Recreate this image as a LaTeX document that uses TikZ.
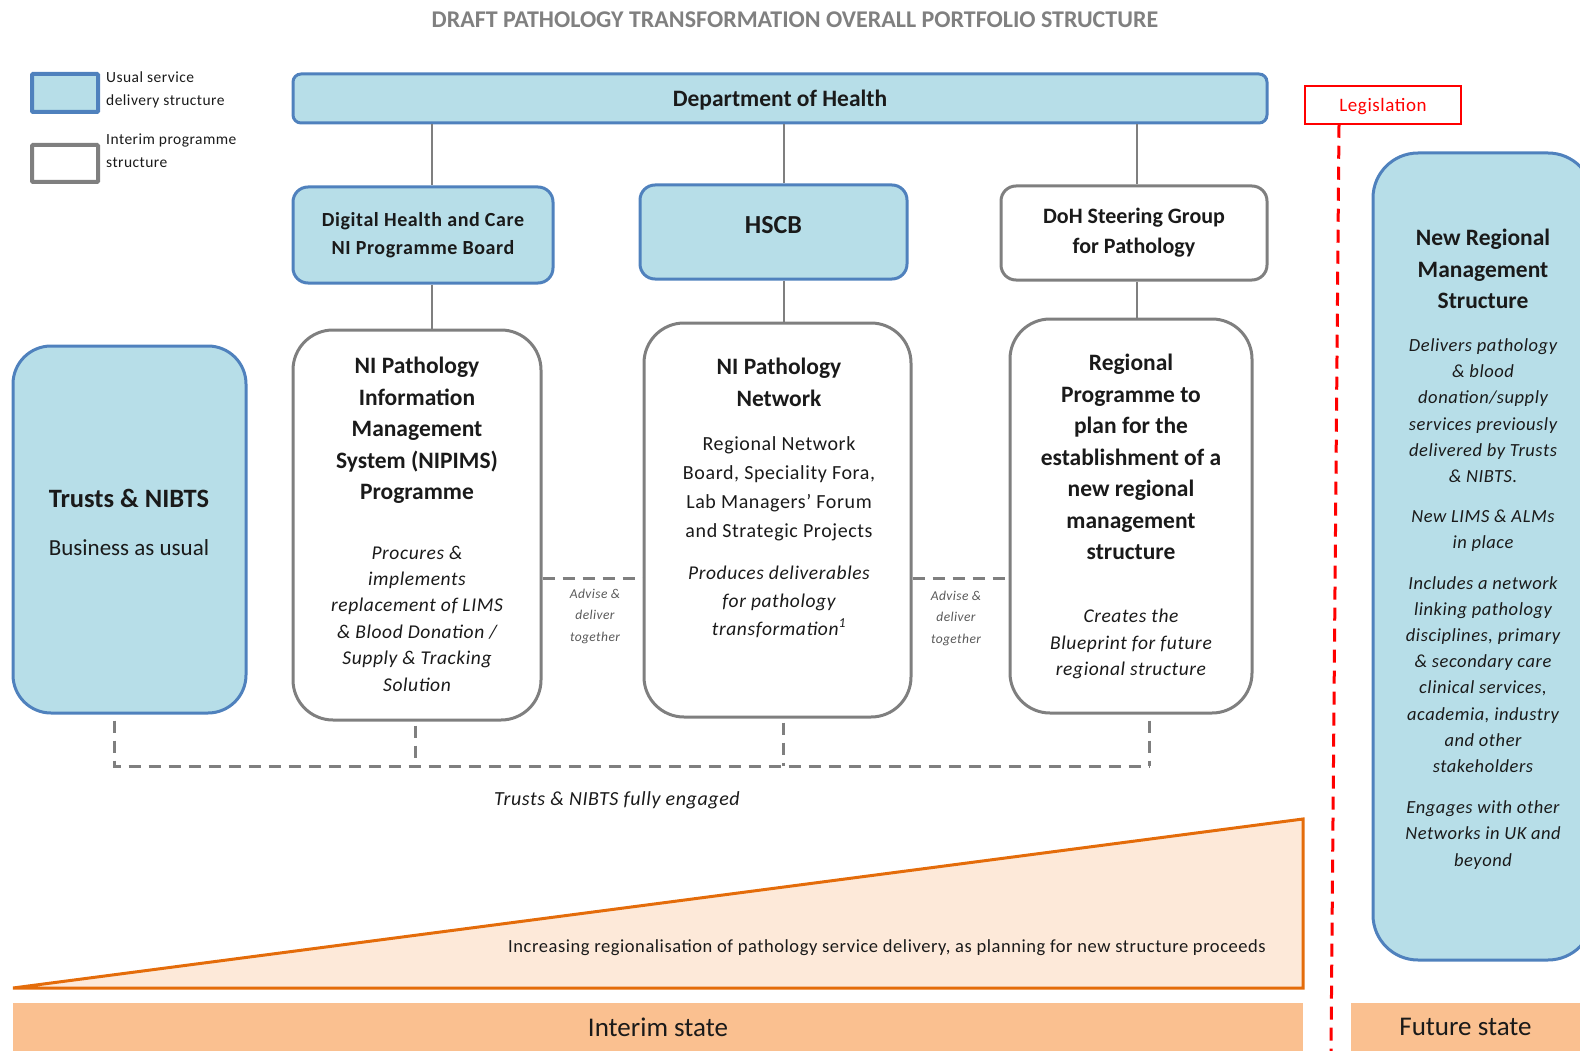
\documentclass[tikz,border=0pt]{standalone}
\usepackage{fontspec}
\setmainfont{Carlito}
\newfontfamily\spaced[LetterSpace=3]{Carlito}
\definecolor{usualF}{HTML}{B7DEE8}
\definecolor{usualD}{HTML}{4F81BD}
\definecolor{interimD}{HTML}{7F7F7F}
\definecolor{linkC}{HTML}{7F7F7F}
\definecolor{legisC}{HTML}{FF0000}
\definecolor{rampF}{HTML}{FDE9D9}
\definecolor{rampD}{HTML}{E46C0A}
\definecolor{stateF}{HTML}{FAC090}
\definecolor{titleC}{HTML}{808080}
\definecolor{noteC}{HTML}{595959}
\definecolor{ink}{HTML}{1A1A1A}
\newcommand\fs[2]{\fontsize{#1}{#2}\selectfont}
\tikzset{
  box/.style={rounded corners=15pt, draw, line width=3pt, align=center, inner sep=0pt, text=ink},
  usual/.style={box, fill=usualF, draw=usualD},
  interim/.style={box, fill=white, draw=interimD},
  link/.style={draw=linkC, line width=1.5pt},
  eng/.style={draw=linkC, line width=3pt, dash pattern=on 12pt off 8pt},
  legline/.style={draw=legisC, line width=3pt, dash pattern=on 13pt off 8pt},
  ramp/.style={fill=rampF, draw=rampD, line width=3pt, line join=miter},
  hdtxt/.style={font=\bfseries\fs{23.5}{31.5}, align=center, text=ink, inner sep=0pt, anchor=north},
  ittxt/.style={font=\spaced\itshape\fs{19.5}{26.4}, align=center, text=ink, inner sep=0pt, anchor=north},
  rgtxt/.style={font=\spaced\fs{20}{29}, align=center, text=ink, inner sep=0pt, anchor=north},
  legendtxt/.style={font=\spaced\fs{15.5}{23}, align=left, text=ink, inner sep=0pt, anchor=north west},
  note/.style={font=\spaced\itshape\fs{13.5}{21.5}, align=center, text=noteC, inner sep=0pt},
  statebar/.style={fill=stateF, minimum height=48pt, inner sep=0pt, font=\fs{27}{32}, text=ink},
}

\begin{document}
\begin{tikzpicture}[x=1pt, y=-1pt]
\path[use as bounding box, clip] (0,0) rectangle (1580,1051);
\node[font=\bfseries\fs{24}{29}, text=titleC] (title) at (795,20) {DRAFT PATHOLOGY TRANSFORMATION OVERALL PORTFOLIO STRUCTURE};
% legend
\node[usual, rounded corners=1pt, line width=4pt, minimum width=66pt, minimum height=38pt] (keyU) at (65,93) {};
\node[legendtxt] (keyUT) at (106,72) {Usual service\\delivery structure};
\node[interim, rounded corners=1pt, line width=4pt, minimum width=66pt, minimum height=37pt] (keyI) at (65,163.5) {};
\node[legendtxt] (keyIT) at (106,134) {Interim programme\\structure};
% top rows
\node[usual, rounded corners=8pt, minimum width=974pt, minimum height=49pt, text depth=0pt, font=\bfseries\fs{23.5}{28}] (doh) at (780,98.5) {Department of Health};
\node[draw=legisC, line width=1.5pt, minimum width=156pt, minimum height=38pt, inner sep=0pt, text depth=0pt, text=legisC, font=\spaced\fs{19}{23}] (legis) at (1383,105) {Legislation};
\node[usual, minimum width=260pt, minimum height=96pt, font=\spaced\bfseries\fs{20}{28}] (dig) at (423,235) {Digital Health and Care\\NI Programme Board};
\node[usual, minimum width=267pt, minimum height=94pt, text depth=14pt, font=\bfseries\fs{26}{30}] (hscb) at (773.5,232) {HSCB};
\node[interim, minimum width=266pt, minimum height=94pt, font=\bfseries\fs{22}{30}] (steer) at (1134,233) {DoH Steering Group\\for Pathology};
% programme boxes
\node[usual, rounded corners=38pt, minimum width=233pt, minimum height=367pt] (trusts) at (129.5,529.5) {};
\node[hdtxt, anchor=center, font=\bfseries\fs{26.5}{30}] (trustsH) at (129,498) {Trusts \& NIBTS};
\node[rgtxt, anchor=center, font=\fs{23}{28}] (trustsS) at (129,548) {Business as usual};
\node[interim, rounded corners=40pt, minimum width=248pt, minimum height=390pt] (nip) at (417,525) {};
\node[hdtxt] (nipH) at (417,357) {NI Pathology\\Information\\Management\\System (NIPIMS)\\Programme};
\node[ittxt] (nipD) at (417,545.5) {Procures \&\\implements\\replacement of LIMS\\\& Blood Donation /\\Supply \& Tracking\\Solution};
\node[interim, rounded corners=40pt, minimum width=267pt, minimum height=394pt] (net) at (777.5,520) {};
\node[hdtxt] (netH) at (779,358) {NI Pathology\\Network};
\node[rgtxt] (netR) at (779,436.5) {Regional Network\\Board, Speciality Fora,\\Lab Managers’ Forum\\and Strategic Projects};
\node[ittxt, font=\spaced\itshape\fs{19.5}{28}] (netD) at (779,565.5) {Produces deliverables\\for pathology\\transformation\textsuperscript{1}};
\node[interim, rounded corners=40pt, minimum width=242pt, minimum height=394pt] (reg) at (1131,516) {};
\node[hdtxt] (regH) at (1131,354) {Regional\\Programme to\\plan for the\\establishment of a\\new regional\\management\\structure};
\node[ittxt, font=\spaced\itshape\fs{19.5}{26.8}] (regD) at (1131,608.5) {Creates the\\Blueprint for future\\regional structure};
\node[usual, rounded corners=45pt, minimum width=220pt, minimum height=807pt] (newreg) at (1483,556.5) {};
\node[hdtxt] (newregH) at (1483,229) {New Regional\\Management\\Structure};
\node[ittxt, font=\spaced\itshape\fs{18.5}{26.2}] (newregD) at (1483,338.5) {Delivers pathology\\\& blood\\donation/supply\\services previously\\delivered by Trusts\\\& NIBTS.\\[14pt]New LIMS \& ALMs\\in place\\[14pt]Includes a network\\linking pathology\\disciplines, primary\\\& secondary care\\clinical services,\\academia, industry\\and other\\stakeholders\\[15pt]Engages with other\\Networks in UK and\\beyond};
% connectors
\coordinate (colA) at (432,0);
\coordinate (colB) at (784,0);
\coordinate (colC) at (1137,0);
\draw[link] (doh.south -| colA) -- (dig.north -| colA);
\draw[link] (dig.south -| colA) -- (nip.north -| colA);
\draw[link] (doh.south -| colB) -- (hscb.north -| colB);
\draw[link] (hscb.south -| colB) -- (net.north -| colB);
\draw[link] (doh.south -| colC) -- (steer.north -| colC);
\draw[link] (steer.south -| colC) -- (reg.north -| colC);
\coordinate (adv) at (0,578);
\draw[eng] (nip.east |- adv) -- (net.west |- adv);
\draw[eng] (net.east |- adv) -- (reg.west |- adv);
\node[note] (advA) at (595,616) {Advise \&\\deliver\\together};
\node[note] (advB) at (956,618) {Advise \&\\deliver\\together};
\coordinate (engL) at (114,766);
\coordinate (engB) at (415,766);
\coordinate (engC) at (783,766);
\coordinate (engR) at (1149,766);
\draw[eng] (trusts.south -| engL) ++(0,6) -- (engL) -- (engR);
\draw[eng] (reg.south -| engR) ++(0,6) -- (engR);
\draw[eng] (nip.south -| engB) ++(0,4) -- (engB);
\draw[eng] (net.south -| engC) ++(0,4) -- (engC);
\node[font=\spaced\itshape\fs{20}{24}, text=ink] (engT) at (617,800) {Trusts \& NIBTS fully engaged};
% legislation line
\coordinate (legEnd) at (1331,1051);
\draw[legline] ([xshift=-44pt]legis.south) -- (legEnd);
% ramp and states
\draw[ramp] (13,988) -- (1303,819) -- (1303,988) -- cycle;
\node[font=\spaced\fs{18.5}{22}, text=ink] (rampT) at (887,948) {Increasing regionalisation of pathology service delivery, as planning for new structure proceeds};
\node[statebar, minimum width=1290pt] (interimS) at (658,1027) {Interim state};
\node[statebar, minimum width=229pt] (futureS) at (1465.5,1027) {Future state};
\end{tikzpicture}
\end{document}
